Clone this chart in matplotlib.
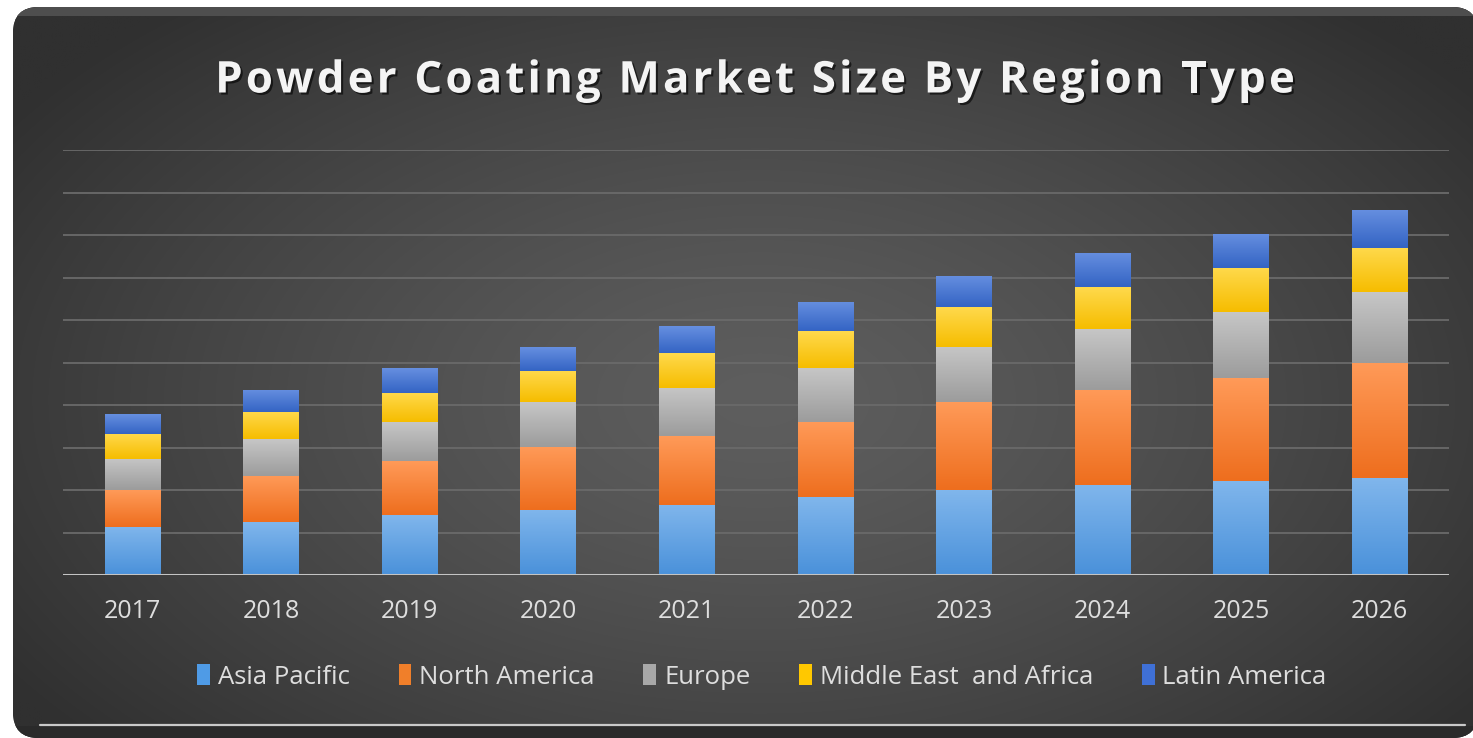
import numpy as np
import matplotlib
matplotlib.use("Agg")
import matplotlib.pyplot as plt
from matplotlib.patches import FancyBboxPatch, Patch, Rectangle
from matplotlib.colors import to_rgb
from matplotlib.font_manager import FontProperties
from matplotlib.textpath import text_to_path
import matplotlib.patheffects as pe

plt.rcParams['font.family'] = ['Open Sans', 'DejaVu Sans']

# market size per region (stacked, arbitrary units)
years = ['2017', '2018', '2019', '2020', '2021', '2022', '2023', '2024', '2025', '2026']
asia_pacific = [1.13, 1.24, 1.41, 1.53, 1.65, 1.83, 2.00, 2.12, 2.22, 2.28]
north_america = [0.86, 1.09, 1.27, 1.49, 1.61, 1.78, 2.06, 2.24, 2.42, 2.71]
europe = [0.74, 0.86, 0.91, 1.04, 1.15, 1.26, 1.31, 1.43, 1.54, 1.66]
middle_east_africa = [0.59, 0.64, 0.70, 0.75, 0.81, 0.86, 0.93, 0.98, 1.04, 1.04]
latin_america = [0.46, 0.52, 0.58, 0.56, 0.63, 0.69, 0.74, 0.81, 0.81, 0.90]

series = [
    ('Asia Pacific', asia_pacific, '#4f9be6', '#80b6ec', '#4a91da'),
    ('North America', north_america, '#f07f2a', '#ff9a58', '#ee6e1e'),
    ('Europe', europe, '#a8a8a8', '#c6c6c6', '#9c9c9c'),
    ('Middle East  and Africa', middle_east_africa, '#ffc800', '#ffd94c', '#f6bd00'),
    ('Latin America', latin_america, '#3f70d6', '#668fe0', '#3464c4'),
]

title = 'Powder Coating Market Size By Region Type'

W, H = 1473, 738
fig = plt.figure(figsize=(W / 100, H / 100), dpi=100)
fig.patch.set_facecolor('white')

# --- dark rounded panel with radial shading ---
bg = fig.add_axes([0, 0, 1, 1])
bg.set_xlim(0, W)
bg.set_ylim(H, 0)
bg.axis('off')

panel = FancyBboxPatch((13, 7), 1478 - 13, 738 - 7,
                       boxstyle="round,pad=0,rounding_size=26",
                       facecolor='#2e2e2e', edgecolor='none')
bg.add_patch(panel)

gx, gy = np.meshgrid(np.linspace(13, 1478, 400), np.linspace(7, 738, 200))
d = np.sqrt(((gx - 760) / 900) ** 2 + ((gy - 400) / 520) ** 2)
d = np.clip(d, 0, 1) ** 1.3
shade = 0x5e / 255 + (0x30 / 255 - 0x5e / 255) * d
img = np.dstack([shade, shade, shade])
im = bg.imshow(img, extent=(13, 1478, 738, 7), aspect='auto',
               interpolation='bilinear', zorder=1)
im.set_clip_path(panel)

# top bevel highlight and bottom rim
top_rim = Rectangle((13, 7), 1478 - 13, 9, facecolor='#4e4e4e', edgecolor='none', zorder=2)
bg.add_patch(top_rim)
top_rim.set_clip_path(panel)
bottom_band = Rectangle((13, 726), 1478 - 13, 20, facecolor='#2a2a2a', edgecolor='none', zorder=2)
bg.add_patch(bottom_band)
bottom_band.set_clip_path(panel)
bg.plot([40, 1465], [725, 725], color='#c9c9c9', lw=1.6, zorder=3, solid_capstyle='round')

# --- chart area ---
ax = fig.add_axes([63 / W, (H - 575) / H, 1386 / W, 425 / H])
ax.set_facecolor('none')
x = np.arange(len(years))
bottom = np.zeros(len(years))
handles = []
for name, vals, solid, top_c, bot_c in series:
    bars = ax.bar(x, vals, width=0.4, bottom=bottom, color=solid, zorder=3)
    grad = np.linspace(0, 1, 64)[:, None, None]
    cols = np.array(to_rgb(top_c))[None, None, :] * (1 - grad) + np.array(to_rgb(bot_c))[None, None, :] * grad
    for rect in bars:
        rect.set_path_effects([pe.SimplePatchShadow(offset=(0, 0), shadow_rgbFace='black', alpha=0.25), pe.Normal()])
        rx, ry = rect.get_x(), rect.get_y()
        rw, rh = rect.get_width(), rect.get_height()
        g = ax.imshow(cols, extent=(rx, rx + rw, ry, ry + rh), origin='upper',
                      aspect='auto', interpolation='bilinear', zorder=3.5)
        g.set_clip_path(rect)
    bottom += np.array(vals)
    handles.append(Patch(facecolor=solid, edgecolor='none', label=name))

ax.set_xlim(-0.5, len(years) - 0.5)
ax.set_ylim(0, 10)
ax.set_yticks(np.arange(1, 11))
ax.yaxis.grid(True, color='#6a6a6a', lw=1.3, zorder=0)
ax.set_axisbelow(True)
ax.axhline(0, color='#c4c4c4', lw=2.2, zorder=4)
for s in ax.spines.values():
    s.set_visible(False)
ax.set_xticks(x)
ax.set_xticklabels(years)
ax.tick_params(axis='x', length=0, pad=17, labelsize=18, labelcolor='#dedede')
ax.tick_params(axis='y', length=0, labelleft=False)

# --- title, letter-spaced by placing each glyph ---
fs = 31.5
fp = FontProperties(family='Open Sans', weight='bold', size=fs)
px_per_pt = 100 / 72
widths = [text_to_path.get_text_width_height_descent(c, fp, ismath=False)[0] * px_per_pt
          for c in title]
spacing = 3.2
total = sum(widths) + spacing * (len(title) - 1)
cx = 755 - total / 2
shadow = [pe.withSimplePatchShadow(offset=(1.5, -1.5), shadow_rgbFace='black', alpha=0.6)]
for c, w in zip(title, widths):
    if c != ' ':
        fig.text(cx / W, 1 - 81 / H, c, ha='left', va='center', fontproperties=fp,
                 color='#f4f4f4', path_effects=shadow)
    cx += w + spacing

# --- legend ---
leg = fig.legend(handles=handles, loc='center', bbox_to_anchor=(762 / W, 1 - 677 / H),
                 ncol=5, frameon=False, fontsize=18.5, labelcolor='#dedede',
                 handlelength=0.5, handleheight=0.85, handletextpad=0.3, columnspacing=1.9)

fig.savefig('out.png', dpi=100, facecolor='white')
